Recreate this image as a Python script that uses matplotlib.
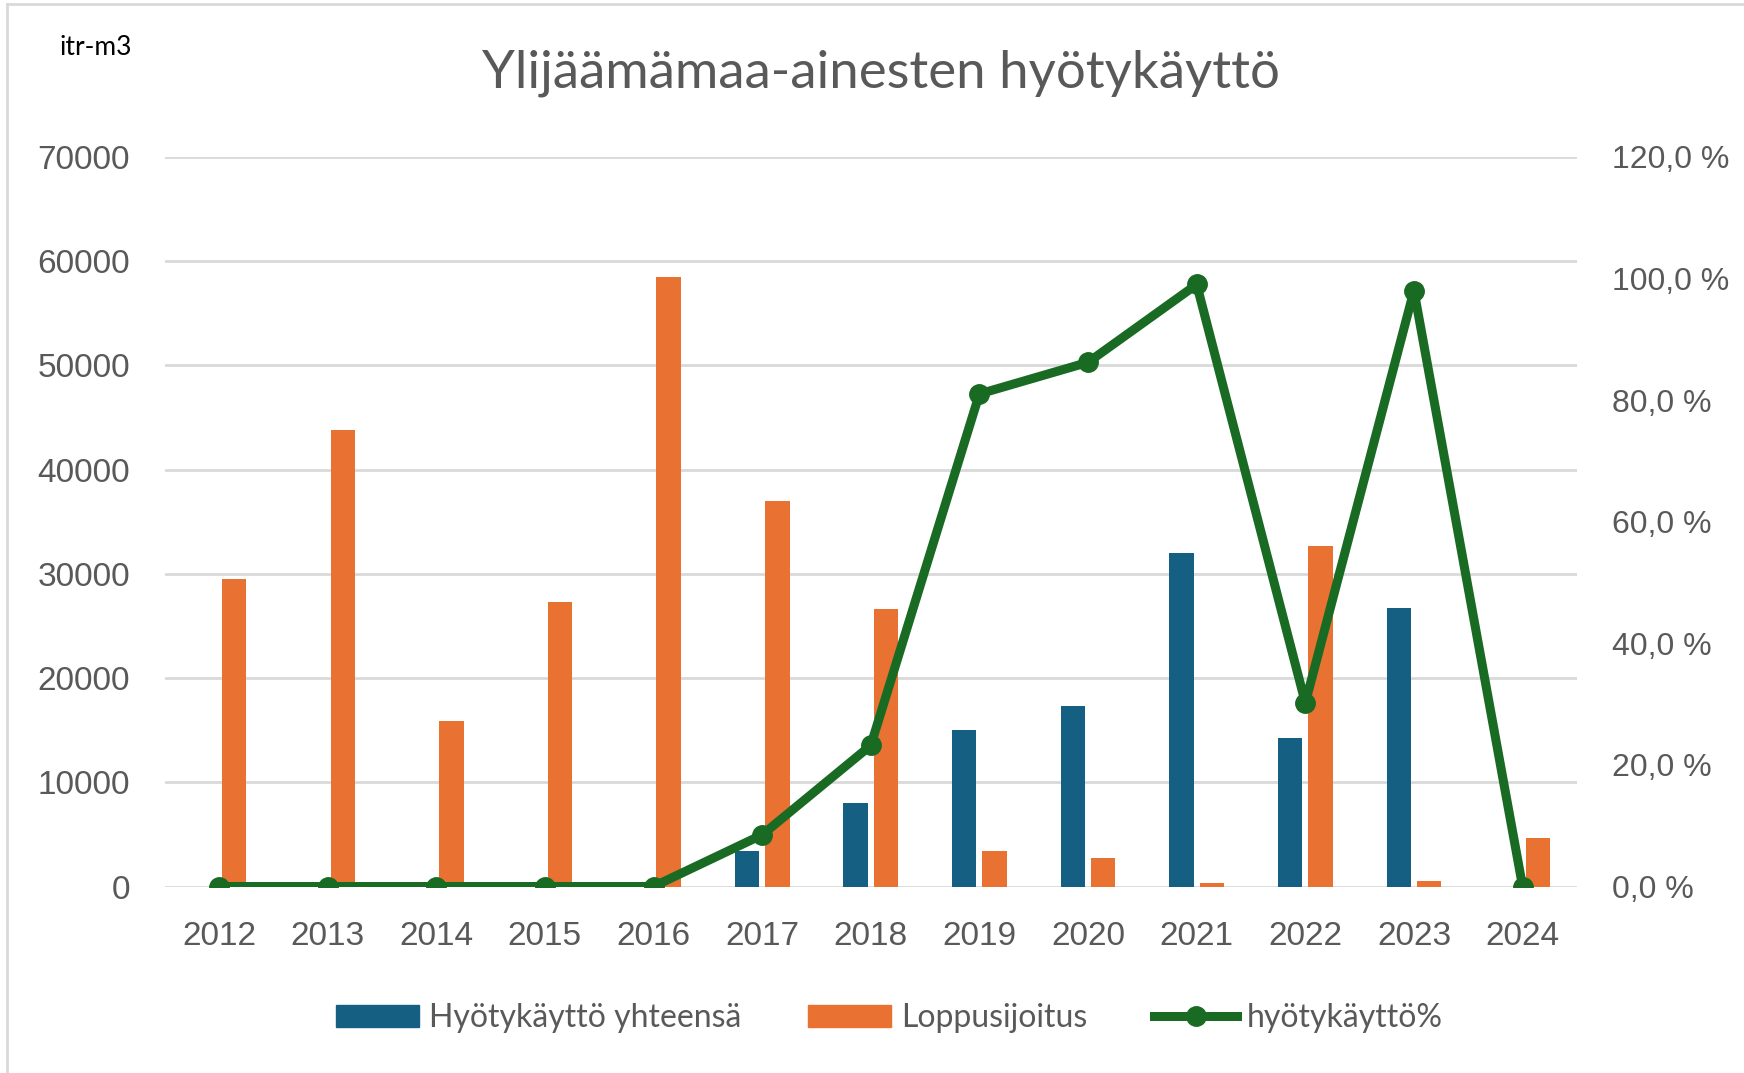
import numpy as np
import matplotlib
matplotlib.use("Agg")
import matplotlib.pyplot as plt
from matplotlib.lines import Line2D
import matplotlib.ticker as ticker

vuodet = ["2012", "2013", "2014", "2015", "2016", "2017", "2018",
          "2019", "2020", "2021", "2022", "2023", "2024"]
hyotykaytto = [0, 0, 0, 0, 0, 3450, 8000, 15000, 17300, 32000, 14250, 26700, 0]
loppusijoitus = [29450, 43750, 15900, 27300, 58500, 36950, 26600,
                 3450, 2700, 300, 32700, 500, 4650]
hyoty_pros = [0.0, 0.0, 0.0, 0.0, 0.0, 0.085, 0.232, 0.81, 0.862, 0.99, 0.302, 0.98, 0.0]

sininen = "#156082"
oranssi = "#E97132"
vihrea = "#196B24"
harmaa = "#595959"
kapea = ["Lato", "DejaVu Sans"]

fig = plt.figure(figsize=(17.44, 10.73), dpi=100)
ax = fig.add_axes([0.0944, 0.1738, 0.8098, 0.6801])
ax2 = ax.twinx()

x = np.arange(len(vuodet))
lev = 0.225
ax.bar(x - 0.14, hyotykaytto, lev, color=sininen, zorder=2, label="Hyötykäyttö yhteensä")
ax.bar(x + 0.14, loppusijoitus, lev, color=oranssi, zorder=2, label="Loppusijoitus")
ax2.plot(x, hyoty_pros, color=vihrea, lw=6.5, marker="o", ms=14, zorder=3,
         solid_joinstyle="round", label="hyötykäyttö%")

ax.set_xlim(-0.5, len(vuodet) - 0.5)
ax.set_ylim(0, 70000)
ax.set_yticks(np.arange(0, 70001, 10000))
ax2.set_ylim(0, 1.2)
ax2.set_yticks(np.arange(0, 1.21, 0.2))
ax2.yaxis.set_major_formatter(ticker.FuncFormatter(
    lambda v, p: f"{v*100:.1f}".replace(".", ",") + " %"))

ax.set_xticks(x)
ax.set_xticklabels(vuodet)
ax.grid(axis="y", color="#D9D9D9", lw=2, zorder=0)
ax.set_axisbelow(True)
for a in (ax, ax2):
    for s in a.spines.values():
        s.set_visible(False)
ax.tick_params(axis="both", length=0, labelsize=24, labelcolor=harmaa, pad=25)
ax2.tick_params(axis="y", length=0, labelsize=23, labelcolor=harmaa, pad=25)
for t in ax.get_xticklabels() + ax.get_yticklabels() + ax2.get_yticklabels():
    t.set_family("Liberation Sans")

fig.text(0.505, 0.932, "Ylijäämämaa-ainesten hyötykäyttö", ha="center", va="center",
         fontsize=38, color=harmaa, family=kapea)
fig.text(0.034, 0.956, "itr-m3", ha="left", va="center", fontsize=19,
         color="black", family="Lato")

kahvat = [plt.Rectangle((0, 0), 1, 1, color=sininen),
          plt.Rectangle((0, 0), 1, 1, color=oranssi),
          Line2D([], [], color=vihrea, lw=6.5, marker="o", ms=14)]
fig.legend(kahvat, ["Hyötykäyttö yhteensä", "Loppusijoitus", "hyötykäyttö%"],
           loc="center", bbox_to_anchor=(0.51, 0.051), ncol=3, frameon=False,
           prop={"family": kapea, "size": 23}, labelcolor=harmaa,
           handlelength=2.6, handleheight=0.65, handletextpad=0.3, columnspacing=2.1)

# kaavion reunaviivat
fig.add_artist(Line2D([7 / 1744, 1], [1 - 4 / 1073, 1 - 4 / 1073], color="#D9D9D9", lw=2))
fig.add_artist(Line2D([7 / 1744, 7 / 1744], [0, 1 - 4 / 1073], color="#D9D9D9", lw=2))

fig.savefig("out.png", dpi=100)
